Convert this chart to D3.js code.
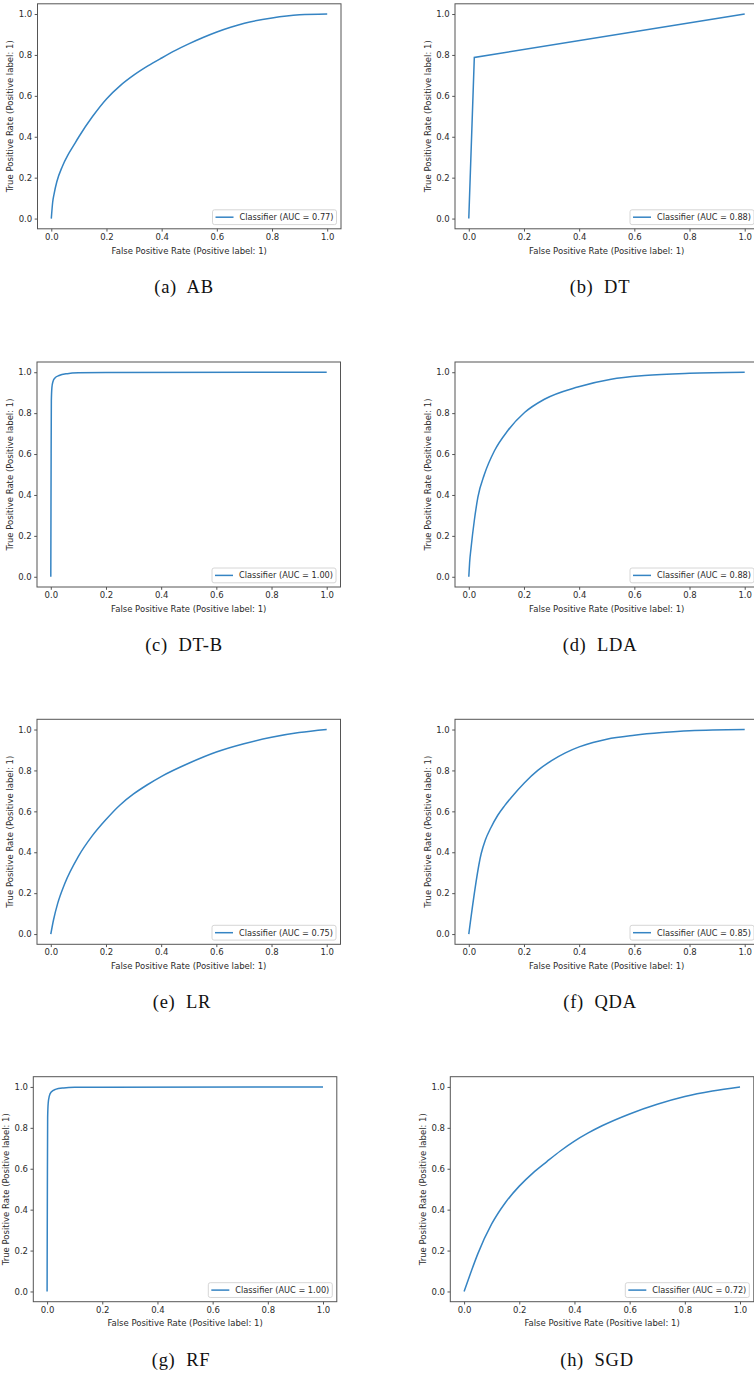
<!DOCTYPE html>
<html>
<head>
<meta charset="utf-8">
<script src="https://cdn.jsdelivr.net/npm/d3@7"></script>
<style>
  body { margin: 0; background: #fff; }
  svg { display: block; }
  .tick text { font-family: "DejaVu Sans", sans-serif; font-size: 8.5px; fill: #2b2b2b; }
  .tick line, .domain { stroke: #555; }
</style>
</head>
<body>
<svg id="chart" width="754" height="1373"></svg>
<script>
// ROC points (false positive rate / true positive rate)
var abFpr = [0, 0.005, 0.01, 0.02, 0.04, 0.06, 0.08, 0.1, 0.15, 0.2, 0.25, 0.3, 0.35, 0.4, 0.45, 0.5, 0.55, 0.6, 0.65, 0.7, 0.8, 0.9, 1];
var abTpr = [0, 0.08, 0.12, 0.18, 0.255, 0.31, 0.355, 0.4, 0.5, 0.585, 0.65, 0.702, 0.746, 0.785, 0.822, 0.855, 0.885, 0.912, 0.935, 0.955, 0.981, 0.996, 1];

var dtFpr = [0, 0.02, 1];
var dtTpr = [0, 0.788, 1];

var dtbFpr = [0, 0.001, 0.002, 0.004, 0.008, 0.015, 0.03, 0.06, 0.1, 0.2, 1];
var dtbTpr = [0, 0.5, 0.86, 0.925, 0.955, 0.972, 0.984, 0.993, 0.997, 0.999, 1];

var ldaFpr = [0, 0.003, 0.0085, 0.02, 0.033, 0.057, 0.093, 0.141, 0.202, 0.274, 0.395, 0.516, 0.637, 0.8, 1];
var ldaTpr = [0, 0.07, 0.145, 0.275, 0.389, 0.502, 0.616, 0.714, 0.803, 0.868, 0.928, 0.966, 0.984, 0.995, 1];

var lrFpr = [0, 0.01, 0.025, 0.05, 0.1, 0.15, 0.2, 0.25, 0.3, 0.35, 0.4, 0.5, 0.6, 0.7, 0.8, 0.9, 1];
var lrTpr = [0, 0.07, 0.15, 0.245, 0.38, 0.48, 0.56, 0.63, 0.685, 0.73, 0.77, 0.835, 0.89, 0.93, 0.962, 0.985, 1];

var qdaFpr = [0, 0.045, 0.06, 0.08, 0.105, 0.13, 0.154, 0.202, 0.25, 0.3, 0.35, 0.4, 0.45, 0.5, 0.6, 0.7, 0.8, 1];
var qdaTpr = [0, 0.394, 0.46, 0.52, 0.581, 0.628, 0.668, 0.74, 0.8, 0.848, 0.886, 0.915, 0.937, 0.953, 0.972, 0.985, 0.994, 1];

var rfFpr = [0, 0.001, 0.002, 0.004, 0.008, 0.015, 0.03, 0.06, 0.1, 0.2, 1];
var rfTpr = [0, 0.5, 0.85, 0.92, 0.955, 0.975, 0.988, 0.995, 0.998, 0.999, 1];

var sgdFpr = [0, 0.025, 0.05, 0.1, 0.15, 0.2, 0.25, 0.3, 0.35, 0.4, 0.45, 0.5, 0.6, 0.7, 0.8, 0.9, 1];
var sgdTpr = [0, 0.095, 0.185, 0.33, 0.435, 0.515, 0.58, 0.635, 0.688, 0.735, 0.775, 0.81, 0.868, 0.915, 0.953, 0.98, 1];

var captions = ["(a)  AB", "(b)  DT", "(c)  DT-B", "(d)  LDA", "(e)  LR", "(f)  QDA", "(g)  RF", "(h)  SGD"];
var aucs = ["0.77", "0.88", "1.00", "0.88", "0.75", "0.85", "1.00", "0.72"];
var tickVals = [0, 0.2, 0.4, 0.6, 0.8, 1.0];

var series = [
  [abFpr, abTpr], [dtFpr, dtTpr], [dtbFpr, dtbTpr], [ldaFpr, ldaTpr],
  [lrFpr, lrTpr], [qdaFpr, qdaTpr], [rfFpr, rfTpr], [sgdFpr, sgdTpr]
];

// frame origins of every panel
var frames = [
  [37.5, 3.8], [455, 3.8],
  [37, 362], [455, 362],
  [37, 719.3], [455, 719.3],
  [33.3, 1076.7], [450.3, 1076.7]
];
var captionX = [184, 600, 184, 600, 182, 600, 181, 597];
var fw = 303.5, fh = 225;
var lineColor = "#3584c3";
var font = "DejaVu Sans, sans-serif";

var svg = d3.select("#chart");
var fmt = d3.format(".1f");

series.forEach(function(s, i) {
  var ox = frames[i][0], oy = frames[i][1];
  var g = svg.append("g").attr("transform", "translate(" + ox + "," + oy + ")");

  var x = d3.scaleLinear().domain([-0.05, 1.05]).range([0, fw]);
  var y = d3.scaleLinear().domain([-0.05, 1.05]).range([fh, 0]);

  g.append("g")
    .attr("transform", "translate(0," + fh + ")")
    .call(d3.axisBottom(x).tickValues(tickVals).tickFormat(fmt).tickSize(2.8).tickPadding(2))
    .call(function(a) { a.select(".domain").remove(); });

  g.append("g")
    .call(d3.axisLeft(y).tickValues(tickVals).tickFormat(fmt).tickSize(2.8).tickPadding(2.5))
    .call(function(a) { a.select(".domain").remove(); });

  g.append("rect")
    .attr("width", fw).attr("height", fh)
    .attr("fill", "none").attr("stroke", "#555").attr("stroke-width", 1);

  var pts = s[0].map(function(v, k) { return [v, s[1][k]]; });
  var line = d3.line()
    .x(function(d) { return x(d[0]); })
    .y(function(d) { return y(d[1]); })
    .curve(i === 1 ? d3.curveLinear : d3.curveMonotoneX);

  g.append("path")
    .datum(pts)
    .attr("d", line)
    .attr("fill", "none")
    .attr("stroke", lineColor)
    .attr("stroke-width", 1.5);

  g.append("text")
    .attr("x", fw / 2).attr("y", fh + 24.8)
    .attr("text-anchor", "middle")
    .style("font-family", font).style("font-size", "8.5px").style("fill", "#2b2b2b")
    .text("False Positive Rate (Positive label: 1)");

  g.append("text")
    .attr("transform", "translate(-24.5," + (fh / 2) + ") rotate(-90)")
    .attr("text-anchor", "middle")
    .style("font-family", font).style("font-size", "8.5px").style("fill", "#2b2b2b")
    .text("True Positive Rate (Positive label: 1)");

  // legend
  var leg = g.append("g");
  var box = leg.append("rect")
    .attr("rx", 2).attr("ry", 2)
    .attr("fill", "#fff").attr("fill-opacity", 0.8)
    .attr("stroke", "#ccc").attr("stroke-width", 0.8);
  var lt = leg.append("text")
    .style("font-family", font).style("font-size", "8.2px").style("fill", "#2b2b2b")
    .text("Classifier (AUC = " + aucs[i] + ")");
  var tw = lt.node().getComputedTextLength();
  var bw = tw + 30, bh = 14.8;
  var bx = fw - 4.5 - bw, by = fh - 4.2 - bh;
  box.attr("x", bx).attr("y", by).attr("width", bw).attr("height", bh);
  leg.append("line")
    .attr("x1", bx + 3).attr("x2", bx + 21)
    .attr("y1", by + bh / 2).attr("y2", by + bh / 2)
    .attr("stroke", lineColor).attr("stroke-width", 1.5);
  lt.attr("x", bx + 27).attr("y", by + bh / 2 + 3);

  svg.append("text")
    .attr("x", captionX[i]).attr("y", oy + 289)
    .attr("text-anchor", "middle")
    .style("font-family", "Liberation Serif, serif").style("font-size", "18.5px")
    .style("letter-spacing", "0.7px").style("word-spacing", "0px").style("white-space", "pre")
    .style("fill", "#111")
    .text(captions[i]);
});
</script>
</body>
</html>
